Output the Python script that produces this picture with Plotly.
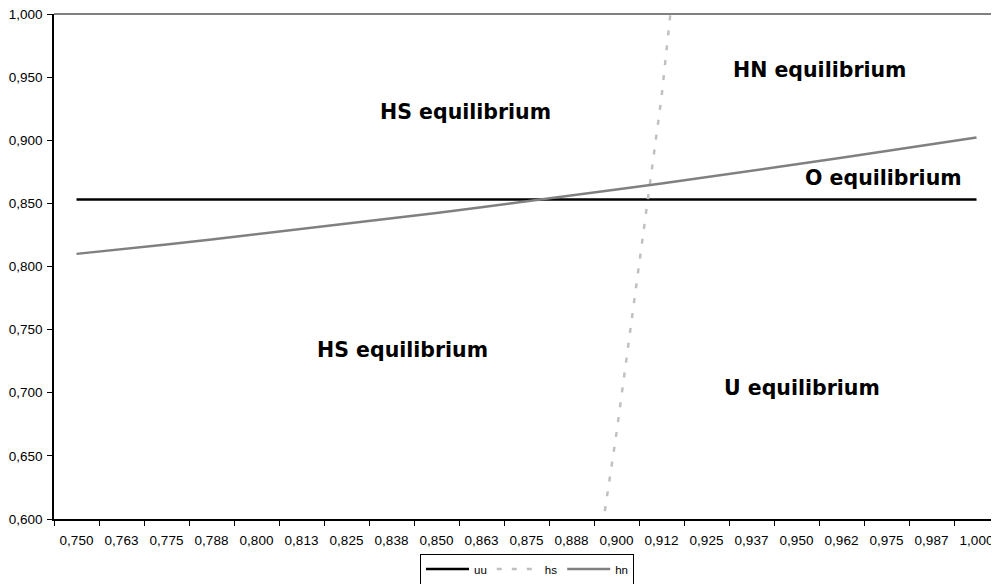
import plotly.graph_objects as go

categories = ["0,750", "0,763", "0,775", "0,788", "0,800", "0,813", "0,825", "0,838",
              "0,850", "0,863", "0,875", "0,888", "0,900", "0,912", "0,925", "0,937",
              "0,950", "0,962", "0,975", "0,987", "1,000"]

uu = [0.853] * 21
hs = [None, None, None, None, None, None, None, None, None, None, None,
      0.430, 0.668, 0.934, 1.269, None, None, None, None, None, None]
hn = [0.810, 0.8135, 0.8174, 0.8213, 0.8254, 0.8295, 0.8337, 0.8381, 0.8424, 0.8470,
      0.8515, 0.8562, 0.8610, 0.8658, 0.8707, 0.8758, 0.8809, 0.8861, 0.8914, 0.8967, 0.9022]

y_ticks = [0.600, 0.650, 0.700, 0.750, 0.800, 0.850, 0.900, 0.950, 1.000]
y_tick_labels = ["0,600", "0,650", "0,700", "0,750", "0,800", "0,850", "0,900", "0,950", "1,000"]

region_labels = ["HS equilibrium", "HN equilibrium", "O equilibrium", "HS equilibrium", "U equilibrium"]
region_x = [465, 819, 883, 402, 802]   # pixel centres in the page
region_y = [112, 70, 178, 350, 388]

OFF = 8  # page body margin
W, H = 999 - OFF, 584 - OFF
ML, MR, MT, MB = 54 - OFF, 0, 14 - OFF, 64.5
PW, PH = W - ML - MR, H - MT - MB

fig = go.Figure()
fig.add_trace(go.Scatter(x=categories, y=uu, name="uu", mode="lines",
                         line=dict(color="#000000", width=2.5)))
fig.add_trace(go.Scatter(x=categories, y=hs, name="hs", mode="lines",
                         line=dict(color="#C0C0C0", width=2.5, dash="5px,10px")))
fig.add_trace(go.Scatter(x=categories, y=hn, name="hn", mode="lines",
                         line=dict(color="#808080", width=2.5)))

for t, px, py in zip(region_labels, region_x, region_y):
    fig.add_annotation(text=t, x=(px - OFF - ML) / PW, y=(H - MB - (py - OFF)) / PH,
                       xref="paper", yref="paper", showarrow=False,
                       xanchor="center", yanchor="middle",
                       font=dict(family="DejaVu Sans", size=20.5, color="#000000", weight="bold"))

fig.add_shape(type="line", xref="paper", yref="paper", x0=0, x1=1, y0=1, y1=1,
              line=dict(color="#808080", width=2))

fig.update_layout(
    width=W, height=H,
    margin=dict(l=ML, r=MR, t=MT, b=MB, pad=0, autoexpand=False),
    paper_bgcolor="white", plot_bgcolor="white",
    separators=",.",
    font=dict(family="Liberation Sans", size=13, color="#000000"),
    showlegend=True,
    legend=dict(orientation="h", xref="container", yref="container",
                x=(527 - OFF) / W, xanchor="center", y=1 - (569 - OFF) / H, yanchor="middle",
                bordercolor="#000000", borderwidth=1, bgcolor="white",
                font=dict(family="Liberation Sans", size=11.5), itemwidth=43,
                tracegroupgap=0),
    xaxis=dict(type="category", range=[-0.5, 20.5], showgrid=False, zeroline=False,
               showline=True, linecolor="#000000", linewidth=1.5,
               ticks="outside", ticklen=5, tickcolor="#000000", tickson="boundaries",
               ticklabelstandoff=8, ticklabeloverflow="allow", tickfont=dict(size=13.5)),
    yaxis=dict(range=[0.6, 1.0], tickvals=y_ticks, ticktext=y_tick_labels, showgrid=False,
               zeroline=False, showline=True, linecolor="#000000", linewidth=1.5,
               ticks="outside", ticklen=5, tickcolor="#000000",
               ticklabelstandoff=2, ticklabeloverflow="allow", tickfont=dict(size=13.5)),
)

fig.write_html("out.html")
